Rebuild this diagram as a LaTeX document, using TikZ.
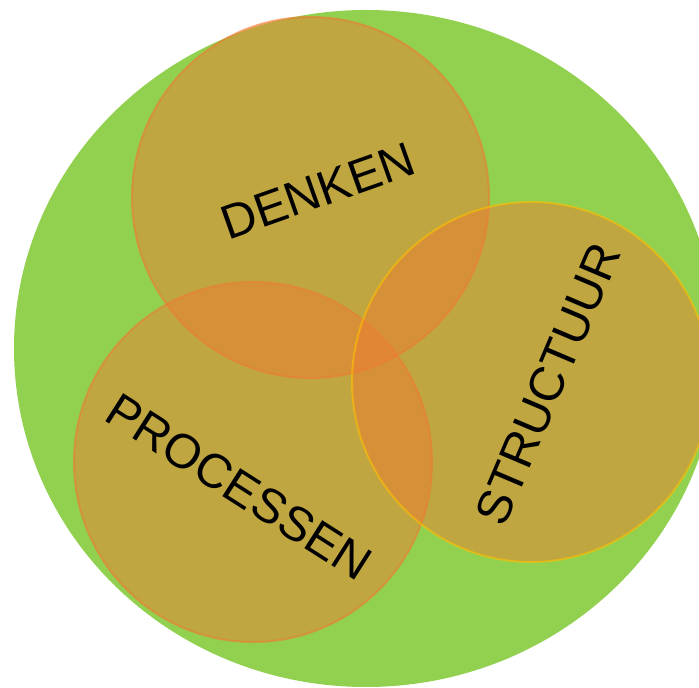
\documentclass[tikz,border=0pt]{standalone}
\usepackage{fontspec}
\setmainfont{Liberation Sans}
\usepackage{xcolor}
\usepackage{tikz}
\definecolor{groen}{HTML}{92D050}
\definecolor{oranje}{HTML}{ED7D31}
\definecolor{goud}{HTML}{FFC000}
\tikzset{
  cirkel/.style={fill=oranje, fill opacity=0.5, draw=#1, draw opacity=0.6, line width=1.4pt},
  cirkel/.default=oranje,
  woord/.style={font=\fontsize{34.3}{41}\selectfont, text=black, text opacity=1, inner sep=0pt},
}

\begin{document}
\begin{tikzpicture}[x=0.025cm, y=-0.025cm]
    \useasboundingbox (0,0) rectangle (699,688);
    \clip (0,0) rectangle (699,688);
    % achtergrond
    \fill[groen] (366,348.5) ellipse [x radius=352, y radius=338.5];
    % de drie cirkels
    \filldraw[cirkel] (310.5,197.5) ellipse [x radius=178.5, y radius=180.5];
    \filldraw[cirkel] (253,462) ellipse [x radius=179, y radius=180];
    \filldraw[cirkel=goud] (531,382) ellipse [x radius=179, y radius=180];
    % woorden
    \node[woord, rotate=19.5] (denken) at (318,191) {DENKEN};
    \node[woord, rotate=-32.5] (processen) at (239,487) {PROCESSEN};
    \node[woord, rotate=67] (structuur) at (548,384) {STRUCTUUR};
\end{tikzpicture}
\end{document}
